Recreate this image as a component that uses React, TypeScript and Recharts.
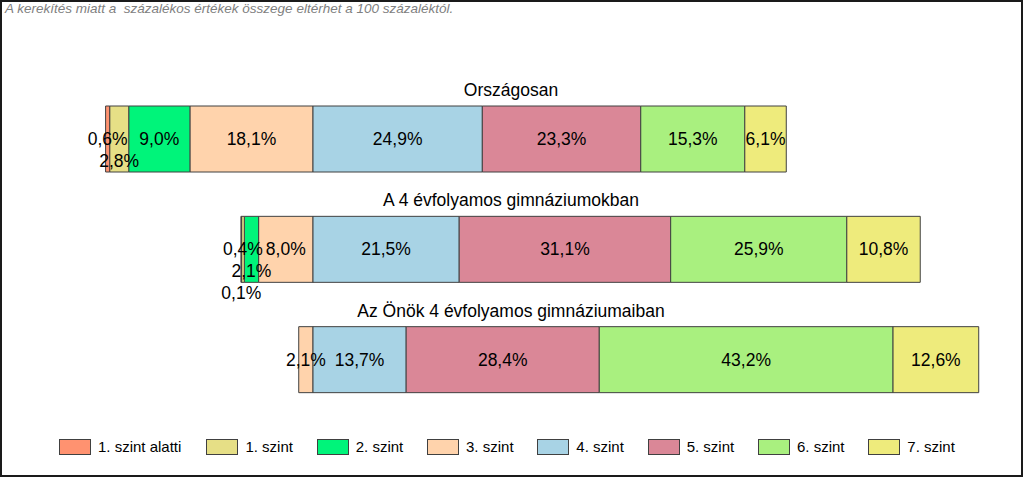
import React from 'react';
import { BarChart, Bar, XAxis, YAxis, LabelList } from 'recharts';

const rowNames = ['Országosan', 'A 4 évfolyamos gimnáziumokban', 'Az Önök 4 évfolyamos gimnáziumaiban'];
const levelNames = ['1. szint alatti', '1. szint', '2. szint', '3. szint', '4. szint', '5. szint', '6. szint', '7. szint'];

const belowLevel1 = [0.6, 0.1, 0];
const level1 = [2.8, 0.4, 0];
const level2 = [9.0, 2.1, 0];
const level3 = [18.1, 8.0, 2.1];
const level4 = [24.9, 21.5, 13.7];
const level5 = [23.3, 31.1, 28.4];
const level6 = [15.3, 25.9, 43.2];
const level7 = [6.1, 10.8, 12.6];

const levelValues = [belowLevel1, level1, level2, level3, level4, level5, level6, level7];
const levelColors = ['#FF9270', '#E6DF86', '#00F47A', '#FFD3AC', '#A8D3E5', '#DA8797', '#A9F07F', '#EEEB7C'];

// levels below 4. szint go to the left of the zero line
const table = rowNames.map((name, r) => {
  const row: any = { name };
  levelValues.forEach((vals, i) => {
    row['l' + i] = i < 4 ? -vals[r] : vals[r];
  });
  return row;
});

// negative stack grows outward from zero, so 3. szint must come first
const drawOrder = [3, 2, 1, 0, 4, 5, 6, 7];

// small segments whose labels collide get pushed down a line (like Excel does)
const labelLine: Record<string, number> = { '1-0': 1, '0-1': 2, '2-1': 1 };

const fmt = (v: number) => v.toFixed(1).replace('.', ',') + '%';

const makeLabel = (series: number) => (props: any) => {
  const { x, y, width, height, index } = props;
  const v = levelValues[series][index];
  if (!v) return null;
  const line = labelLine[series + '-' + index] || 0;
  return (
    <text
      x={x + width / 2}
      y={y + height / 2 + line * 22}
      textAnchor="middle"
      dominantBaseline="central"
      fontSize={17.5}
      fill="#000"
    >
      {fmt(v)}
    </text>
  );
};

// row title sits centred above each bar
const rowTitle = (props: any) => {
  const { y, index } = props;
  return (
    <text x={511} y={y - 16} textAnchor="middle" dominantBaseline="central" fontSize={17.5} fill="#000">
      {rowNames[index]}
    </text>
  );
};

export default function App() {
  return (
    <div style={{ position: 'absolute', left: 0, top: 0, width: 1024, height: 478, background: '#fff', fontFamily: 'Arial, "Liberation Sans", sans-serif' }}>
      <div style={{ position: 'absolute', left: 0, top: 0, width: 1023, height: 477, border: '2px solid #1a1a1a', boxSizing: 'border-box' }} />
      <div style={{ position: 'absolute', left: 5, top: 1, fontSize: 13.5, fontStyle: 'italic', color: '#808080', whiteSpace: 'pre' }}>
        A kerekítés miatt a  százalékos értékek összege eltérhet a 100 százaléktól.
      </div>
      <div style={{ position: 'absolute', left: 0, top: 0 }}>
        <BarChart
          width={1024}
          height={478}
          data={table}
          layout="vertical"
          stackOffset="sign"
          barSize={66}
          margin={{ top: 84, right: 31, bottom: 63, left: 41 }}
        >
          <XAxis type="number" domain={[-40, 100]} hide />
          <YAxis type="category" dataKey="name" hide />
          {drawOrder.map((i) => (
            <Bar
              key={i}
              dataKey={'l' + i}
              stackId="a"
              fill={levelColors[i]}
              stroke="#404040"
              strokeWidth={1}
              isAnimationActive={false}
            >
              <LabelList dataKey={'l' + i} content={makeLabel(i)} />
              {i === 4 && <LabelList dataKey="name" content={rowTitle} />}
            </Bar>
          ))}
        </BarChart>
      </div>
      <div style={{ position: 'absolute', left: 59, top: 438, display: 'flex', alignItems: 'center', fontSize: 15, color: '#000' }}>
        {levelNames.map((n, i) => (
          <div key={n} style={{ display: 'flex', alignItems: 'center', marginRight: i === 0 ? 25 : 23.8 }}>
            <div style={{ width: 30, height: 14, background: levelColors[i], border: '1px solid #404040', marginRight: 7 }} />
            <span>{n}</span>
          </div>
        ))}
      </div>
    </div>
  );
}
